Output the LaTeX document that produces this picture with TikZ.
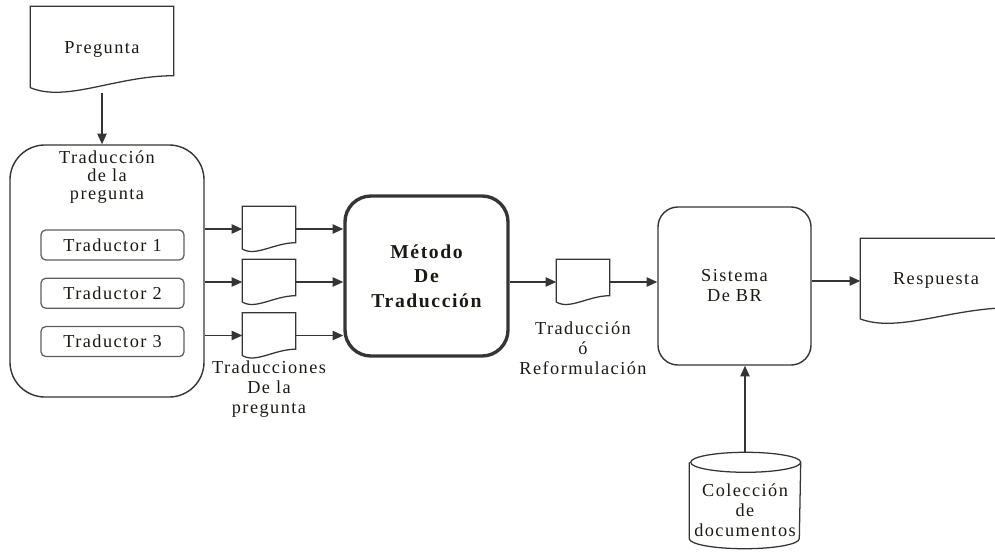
\documentclass[tikz,border=0pt]{standalone}
\usepackage{fontspec}
\setmainfont{Liberation Serif}[LetterSpace=8]
\usetikzlibrary{positioning,calc,arrows.meta}
\definecolor{linegray}{HTML}{353535}
\definecolor{inkgray}{HTML}{1C1915}
\newcommand{\txt}{\fontsize{13}{14.2}\selectfont}
\tikzset{every picture/.style={line width=1pt}}
\tikzset{
  blockbox/.style={draw=linegray, line width=1pt, rounded corners=0.6cm, align=center, font=\txt, text=inkgray},
  tbox/.style={draw=linegray!80, line width=0.9pt, rounded corners=0.12cm, minimum width=3.575cm, minimum height=0.75cm, font=\txt, text=inkgray},
  docnode/.style={inner sep=0pt, font=\txt, text=inkgray},
  smalldoc/.style={docnode, minimum width=1.3cm, minimum height=1.1cm},
  note/.style={align=center, inner sep=0pt, font=\txt, text=inkgray},
  docline/.style={draw=linegray, line width=0.9pt},
  flow/.style={draw=linegray, line width=1.2pt, -{Triangle[length=7.5pt,width=6.5pt]}}
}
% document outline with a wavy lower edge
\newcommand{\docwave}[2]{%
  \draw[docline] (#1.north west) -- (#1.north east) -- ($(#1.south east)+(0,-#2)$)
    .. controls ($(#1.south west)!0.6!(#1.south east)+(0,-#2)$) and ($(#1.south west)!0.25!(#1.south east)+(0,0.6*#2)$)
    .. ($(#1.south west)+(0,-0.3*#2)$) -- cycle;}

\begin{document}
\begin{tikzpicture}[x=0.025cm, y=-0.025cm]
\useasboundingbox (0,0) rectangle (995,553);
    % question and the translators
\node[docnode, minimum width=3.55cm, minimum height=2.125cm] (preg) at (102,49.5) {\raisebox{0.12cm}{Pregunta}};
\node[blockbox, rounded corners=0.875cm, minimum width=4.85cm, minimum height=6.3cm] (trad) at (107,271) {};
\node[note, below=0.15cm of trad.north, font=\fontsize{13}{12.8}\selectfont] (tradtit) {Traducción\\de la\\pregunta};
\node[tbox] (t1) at (112.5,245) {Traductor 1};
\node[tbox, below=0.425cm of t1] (t2) {Traductor 2};
\node[tbox, below=0.425cm of t2] (t3) {Traductor 3};

    % translated questions
\node[smalldoc] (d1) at (269,229) {};
\node[smalldoc] (d2) at (269,282) {};
\node[smalldoc] (d3) at (269,335.5) {};
\node[note, below=0.05cm of d3] (dtxt) {Traducciones\\De la\\pregunta};

    % translation method
\node[blockbox, line width=2.4pt, rounded corners=0.65cm, minimum width=4.075cm, minimum height=4cm, font=\fontsize{14}{17.5}\selectfont\bfseries] (met) at (426.5,276) {Método\\De\\Traducción};
\node[smalldoc] (d4) at (583,282) {};
\node[note, below=0.4cm of d4] (d4txt) {Traducción\\ó\\Reformulación};

    % retrieval system, answer and collection
\node[blockbox, rounded corners=0.5cm, minimum width=3.825cm, minimum height=3.95cm] (sis) at (734.5,286) {Sistema\\De BR};
\node[docnode, minimum width=3.75cm, minimum height=2.1cm] (resp) at (936,281) {\raisebox{0.1cm}{Respuesta}};
\node[docnode, minimum width=2.75cm, minimum height=2.375cm, label={[note, yshift=-0.25cm]center:Colección\\de\\documentos}] (col) at (745,500.5) {};

    % outlines
\docwave{preg}{17}
\docwave{d1}{9}
\docwave{d2}{9}
\docwave{d3}{9}
\docwave{d4}{9}
\docwave{resp}{16}
\draw[docline] ([yshift=-0.25cm]col.north west) -- ([yshift=0.25cm]col.south west)
  arc[start angle=180, end angle=360, x radius=1.375cm, y radius=0.25cm]
  -- ([yshift=-0.25cm]col.north east)
  arc[start angle=0, end angle=360, x radius=1.375cm, y radius=0.25cm];

    % connections
\draw[flow] (preg.south) -- (preg.south |- trad.north);
\draw[flow] (trad.east |- d1) -- (d1);
\draw[flow] (trad.east |- d2) -- (d2);
\draw[flow] (trad.east |- d3) -- (d3);
\draw[flow] (d1) -- (met.west |- d1);
\draw[flow] (d2) -- (met.west |- d2);
\draw[flow] (d3) -- (met.west |- d3);
\draw[flow] (met.east |- d4) -- (d4);
\draw[flow] (d4) -- (sis.west |- d4);
\draw[flow] (sis.east |- resp) -- (resp);
\draw[flow] (col.north) -- (col.north |- sis.south);
\end{tikzpicture}
\end{document}
